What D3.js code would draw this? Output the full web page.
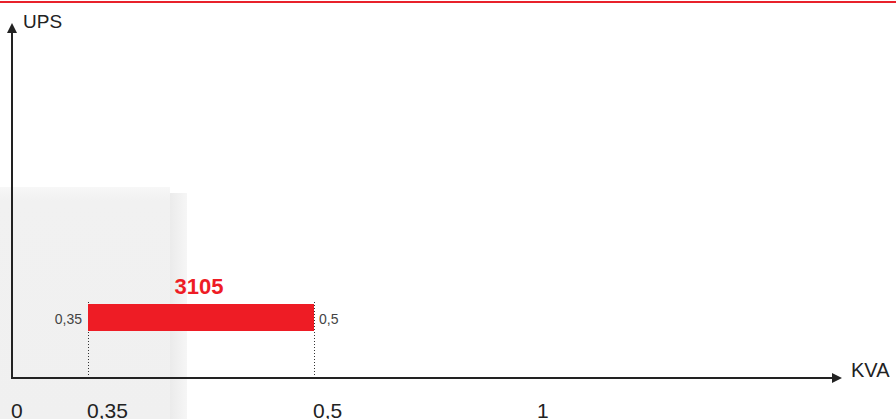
<!DOCTYPE html>
<html>
<head>
<meta charset="utf-8">
<script src="https://cdn.jsdelivr.net/npm/d3@7"></script>
<style>
  body { margin: 0; background: #fff; }
  text { font-family: "Liberation Sans", Arial, sans-serif; }
</style>
</head>
<body>
<div id="chart"></div>
<script>
// tick values on the KVA axis (axis is not linear, each tick has its own slot)
const tickValues = [0, 0.35, 0.5, 1];
const tickLabels = ["0", "0,35", "0,5", "1"];

// the single UPS range bar
const models = ["3105"];
const kvaFrom = [0.35];
const kvaTo = [0.5];
const fromLabels = ["0,35"];
const toLabels = ["0,5"];

const width = 896, height = 419;

const svg = d3.select("#chart")
  .append("svg")
    .attr("width", width)
    .attr("height", height);

const defs = svg.append("defs");

// soft top edge for the faint product picture
const fade = defs.append("linearGradient")
  .attr("id", "fade").attr("x1", 0).attr("x2", 0).attr("y1", 0).attr("y2", 1);
fade.append("stop").attr("offset", "0%").attr("stop-color", "#f7f7f7");
fade.append("stop").attr("offset", "6%").attr("stop-color", "#f1f1f1");
fade.append("stop").attr("offset", "100%").attr("stop-color", "#f0f0f0");

const side = defs.append("linearGradient")
  .attr("id", "side").attr("x1", 0).attr("x2", 1).attr("y1", 0).attr("y2", 0);
side.append("stop").attr("offset", "0%").attr("stop-color", "#ebebeb");
side.append("stop").attr("offset", "100%").attr("stop-color", "#f6f6f6");

svg.append("rect")
  .attr("x", 0).attr("y", 187)
  .attr("width", 170).attr("height", 232)
  .style("fill", "url(#fade)");
svg.append("rect")
  .attr("x", 170).attr("y", 193)
  .attr("width", 17).attr("height", 226)
  .style("fill", "url(#side)");

// red top rule
svg.append("rect")
  .attr("x", 0).attr("y", 1)
  .attr("width", width).attr("height", 2)
  .style("fill", "#e8212b");

// piecewise linear scale for the uneven tick spacing
const x = d3.scaleLinear()
  .domain(tickValues)
  .range([12, 88, 314, 538]);

const y = d3.scaleBand()
  .domain(models)
  .range([304, 331]);

const axisY = 378;

defs.append("marker")
    .attr("id", "arrow")
    .attr("viewBox", "0 0 10 10")
    .attr("refX", 0).attr("refY", 5)
    .attr("markerWidth", 5).attr("markerHeight", 5)
    .attr("markerUnits", "strokeWidth")
    .attr("orient", "auto")
  .append("path")
    .attr("d", "M0,0 L10,5 L0,10 Z")
    .style("fill", "#222");

// axes
svg.append("line")
  .attr("x1", 11).attr("x2", 832)
  .attr("y1", axisY).attr("y2", axisY)
  .style("stroke", "#222").style("stroke-width", 2)
  .attr("marker-end", "url(#arrow)");

svg.append("line")
  .attr("x1", 12).attr("x2", 12)
  .attr("y1", axisY + 1).attr("y2", 33)
  .style("stroke", "#222").style("stroke-width", 2)
  .attr("marker-end", "url(#arrow)");

svg.append("text")
  .attr("x", 23).attr("y", 28)
  .text("UPS")
  .style("font-size", "19px")
  .style("fill", "#222");

svg.append("text")
  .attr("x", 851).attr("y", 377)
  .text("KVA")
  .style("font-size", "20px")
  .style("fill", "#222");

// tick labels under the axis
svg.selectAll(".tick-label")
  .data(tickValues)
  .join("text")
    .attr("class", "tick-label")
    .attr("x", d => x(d) - 1)
    .attr("y", 418)
    .text((d, i) => tickLabels[i])
    .style("font-size", "21px")
    .style("fill", "#222");

// dotted guides from bar ends down to the axis
const guides = [];
models.forEach((m, i) => { guides.push(kvaFrom[i], kvaTo[i]); });
svg.selectAll(".guide")
  .data(guides)
  .join("line")
    .attr("class", "guide")
    .attr("x1", d => x(d) + 0.5).attr("x2", d => x(d) + 0.5)
    .attr("y1", y(models[0]) - 2).attr("y2", axisY - 1)
    .style("stroke", "#333")
    .style("stroke-width", 1)
    .style("stroke-dasharray", "1,2");

// bar
svg.selectAll(".bar")
  .data(models)
  .join("rect")
    .attr("class", "bar")
    .attr("x", (d, i) => x(kvaFrom[i]))
    .attr("y", d => y(d))
    .attr("width", (d, i) => x(kvaTo[i]) - x(kvaFrom[i]))
    .attr("height", y.bandwidth())
    .style("fill", "#ee1c25");

svg.selectAll(".model")
  .data(models)
  .join("text")
    .attr("class", "model")
    .attr("x", (d, i) => (x(kvaFrom[i]) + x(kvaTo[i])) / 2 - 2)
    .attr("y", d => y(d) - 10)
    .attr("text-anchor", "middle")
    .text(d => d)
    .style("font-size", "22px")
    .style("font-weight", "bold")
    .style("fill", "#ee1c25");

svg.selectAll(".from")
  .data(models)
  .join("text")
    .attr("class", "from")
    .attr("x", (d, i) => x(kvaFrom[i]) - 6)
    .attr("y", d => y(d) + y.bandwidth() / 2 + 2)
    .attr("dy", "0.35em")
    .attr("text-anchor", "end")
    .text((d, i) => fromLabels[i])
    .style("font-size", "14px")
    .style("fill", "#444");

svg.selectAll(".to")
  .data(models)
  .join("text")
    .attr("class", "to")
    .attr("x", (d, i) => x(kvaTo[i]) + 5)
    .attr("y", d => y(d) + y.bandwidth() / 2 + 2)
    .attr("dy", "0.35em")
    .text((d, i) => toLabels[i])
    .style("font-size", "14px")
    .style("fill", "#444");
</script>
</body>
</html>
